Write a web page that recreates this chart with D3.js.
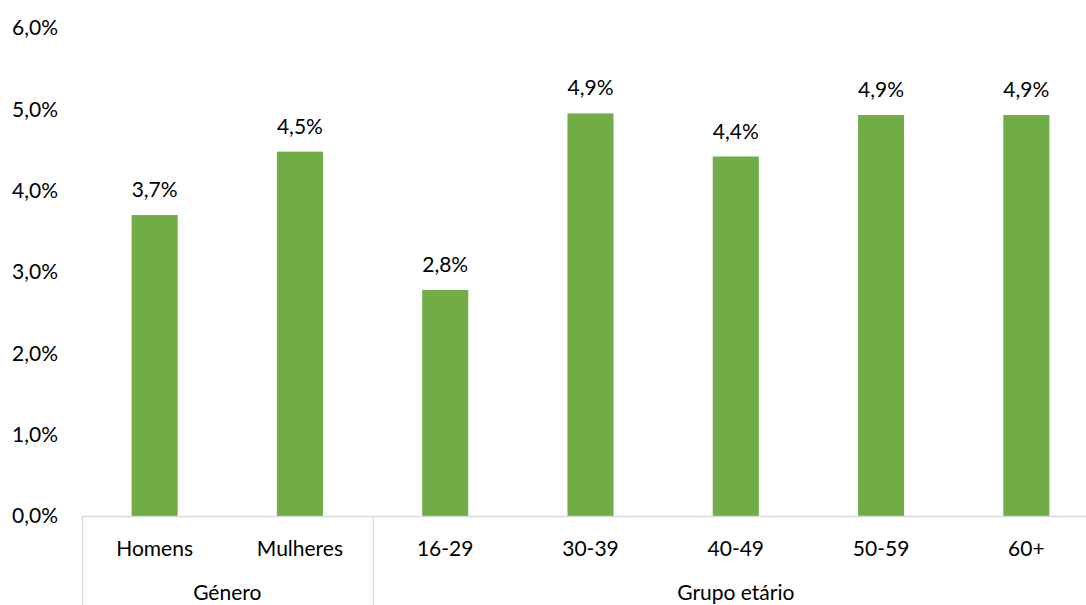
<!DOCTYPE html>
<html>
<head>
<meta charset="utf-8">
<script src="https://cdn.jsdelivr.net/npm/d3@7"></script>
<style>
  body { margin: 0; background: #fff; overflow: hidden; }
  text { font-family: Lato, "Open Sans", sans-serif; fill: #000; }
</style>
</head>
<body>
<div class="chart"></div>
<script>
// DATA ------------------------------
const categories = ["Homens", "Mulheres", "16-29", "30-39", "40-49", "50-59", "60+"];
const values = [3.7, 4.48, 2.78, 4.95, 4.42, 4.93, 4.93];
const valueLabels = ["3,7%", "4,5%", "2,8%", "4,9%", "4,4%", "4,9%", "4,9%"];
const groups = ["Género", "Género", "Grupo etário", "Grupo etário", "Grupo etário", "Grupo etário", "Grupo etário"];
const yTicks = [0, 1, 2, 3, 4, 5, 6];

// CHART INIT ------------------------
const W = 1086, H = 605;
const margin = ({top: 28, bottom: 89, left: 82});
const width = 1017;              // plot runs a little past the right edge
const height = H - margin.top - margin.bottom;
const fs = "21px";

const svg = d3.select(".chart")
    .append("svg")
    .attr("width", W)
    .attr("height", H)
    .append("g")
    .attr("transform", "translate(" + margin.left + "," + margin.top + ")");

const xScale = d3.scaleBand()
    .domain(categories)
    .range([0, width])
    .paddingInner(0.683)
    .paddingOuter(0.3415);
const yScale = d3.scaleLinear()
    .domain([0, 6])
    .range([height, 0]);

// y axis labels (no line)
const yAxis = d3.axisLeft(yScale)
    .tickValues(yTicks)
    .tickSize(0)
    .tickPadding(24)
    .tickFormat(d => d3.format(".1f")(d).replace(".", ",") + "%");
svg.append("g")
    .attr("class", "axis y-axis")
    .call(yAxis)
    .call(g => g.select(".domain").remove())
    .selectAll("text")
    .attr("font-size", fs)
    .attr("font-family", "Lato, 'Open Sans', sans-serif")
    .attr("fill", "#000");

// bars
svg.selectAll("rect.bar")
    .data(categories)
    .enter()
    .append("rect")
    .attr("class", "bar")
    .attr("x", d => xScale(d))
    .attr("y", (d, i) => yScale(values[i]))
    .attr("width", xScale.bandwidth())
    .attr("height", (d, i) => height - yScale(values[i]))
    .attr("fill", "#70AD47");

// value labels
svg.selectAll("text.val")
    .data(categories)
    .enter()
    .append("text")
    .attr("class", "val")
    .attr("x", d => xScale(d) + xScale.bandwidth() / 2)
    .attr("y", (d, i) => yScale(values[i]) - 18)
    .attr("text-anchor", "middle")
    .attr("font-size", fs)
    .text((d, i) => valueLabels[i]);

// x axis (multi-level)
const step = xScale.step();
const axisColor = "#d9d9d9";
svg.append("line")
    .attr("x1", 0).attr("x2", width)
    .attr("y1", height + 0.5).attr("y2", height + 0.5)
    .attr("stroke", axisColor).attr("stroke-width", 1.5);

svg.selectAll("text.cat")
    .data(categories)
    .enter()
    .append("text")
    .attr("class", "cat")
    .attr("x", d => xScale(d) + xScale.bandwidth() / 2)
    .attr("y", height + 40)
    .attr("text-anchor", "middle")
    .attr("font-size", fs)
    .text(d => d);

// group spans
const groupNames = Array.from(new Set(groups));
const spans = groupNames.map(g => {
  const idx = groups.map((v, i) => v === g ? i : -1).filter(i => i >= 0);
  return {name: g, x0: idx[0] * step, x1: (idx[idx.length - 1] + 1) * step};
});

svg.selectAll("line.sep")
    .data(spans)
    .enter()
    .append("line")
    .attr("class", "sep")
    .attr("x1", d => Math.round(d.x0) + 0.5)
    .attr("x2", d => Math.round(d.x0) + 0.5)
    .attr("y1", height)
    .attr("y2", H - margin.top)
    .attr("stroke", axisColor).attr("stroke-width", 1.5);

svg.selectAll("text.grp")
    .data(spans)
    .enter()
    .append("text")
    .attr("class", "grp")
    .attr("x", d => (d.x0 + d.x1) / 2)
    .attr("y", height + 84)
    .attr("text-anchor", "middle")
    .attr("font-size", fs)
    .text(d => d.name);
</script>
</body>
</html>
